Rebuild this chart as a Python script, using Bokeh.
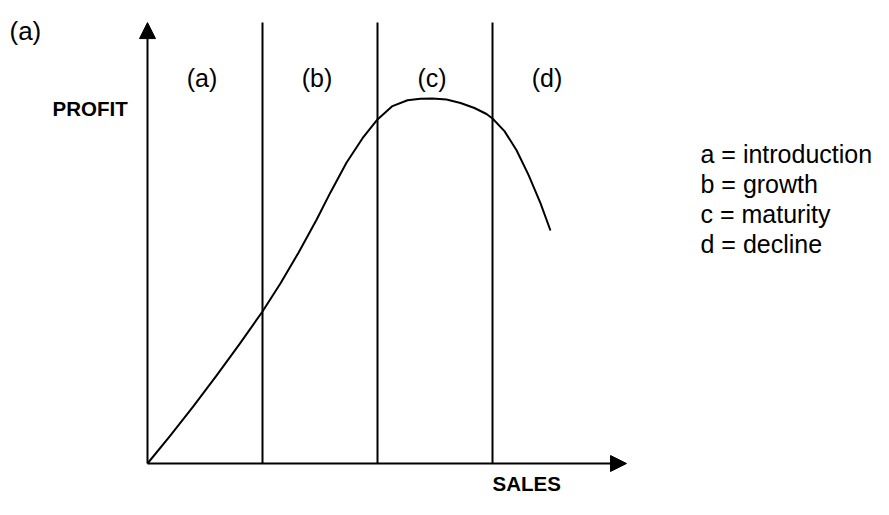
from bokeh.plotting import figure
from bokeh.models import Range1d, Arrow, NormalHead
from bokeh.core.properties import value
from bokeh.embed import file_html
from bokeh.resources import INLINE

# ---- data ----
stage_bounds = [1, 2, 3]
stage_centers = [0.5, 1.5, 2.5, 3.5]
stage_labels = ["(a)", "(b)", "(c)", "(d)"]
curve_x = [0, 0.2, 0.4, 0.6, 0.8, 1.0, 1.157, 1.313, 1.470, 1.591, 1.730, 1.870,
           2.0, 2.130, 2.261, 2.374, 2.478, 2.600, 2.722, 2.843, 2.948, 3.0,
           3.104, 3.209, 3.313, 3.417, 3.504]
curve_y = [0, 7.73, 15.73, 24.05, 32.71, 41.64, 49.37, 57.75, 66.79, 74.27, 82.38,
           89.12, 94.25, 97.92, 99.51, 99.95, 100.0, 99.73, 98.77, 97.40, 95.75,
           94.52, 91.07, 85.81, 79.07, 71.34, 63.84]
legend_lines = ["a = introduction", "b = growth", "c = maturity", "d = decline"]
axis_x_max = 4.165
axis_y_max = 120.8

# ---- layout (picture pixels -> data) ----
W, H = 873, 499
PX0, PY0 = 147, 463          # origin in the picture
SX, SY = 115.0, 3.65         # pixels per data unit


def dx(px):
    return (px - PX0) / SX


def dy(py):
    return (PY0 - py) / SY


x_range = Range1d(dx(0), dx(W))
y_range = Range1d(dy(H), dy(0))

p = figure(width=W, height=H, x_range=x_range, y_range=y_range,
           x_axis_type=None, y_axis_type=None,
           output_backend="svg", toolbar_location=None,
           min_border=0, outline_line_color=None)
p.background_fill_color = "white"
p.border_fill_color = "white"

FONT = value("Liberation Sans")

# axes with arrows
for xs, ys, xe, ye in [(0, 0, 0, axis_y_max), (0, 0, axis_x_max, 0)]:
    p.add_layout(Arrow(end=NormalHead(size=16, fill_color="black", line_color="black", line_width=1),
                       x_start=xs, y_start=ys, x_end=xe, y_end=ye,
                       line_color="black", line_width=2))

# stage boundaries
p.segment(x0=stage_bounds, y0=[0] * len(stage_bounds), x1=stage_bounds,
          y1=[axis_y_max] * len(stage_bounds), line_color="black", line_width=2)

# profit curve
p.line(curve_x, curve_y, line_color="black", line_width=2, line_join="round")

# stage labels
p.text(x=stage_centers, y=[dy(77)] * 4, text=stage_labels, x_offset=-3,
       text_align="center", text_baseline="alphabetic",
       text_font=FONT, text_font_size="25px", text_color="black")

# corner label
p.text(x=[dx(9)], y=[dy(30)], text=["(a)"], text_align="left",
       text_baseline="alphabetic", text_font=FONT, text_font_size="26px",
       text_color="black")

# axis titles
p.text(x=[dx(52)], y=[dy(108)], text=["PROFIT"], text_align="left",
       text_baseline="alphabetic", text_font=FONT, text_font_size="20.5px",
       text_font_style="bold", text_color="black")
p.text(x=[dx(492)], y=[dy(483)], text=["SALES"], text_align="left",
       text_baseline="alphabetic", text_font=FONT, text_font_size="20.5px",
       text_font_style="bold", text_color="black")

# legend
p.text(x=[dx(700)] * 4, y=[dy(b) for b in (153, 183, 213, 243)], text=legend_lines,
       text_align="left", text_baseline="alphabetic", text_font=FONT,
       text_font_size="25px", text_color="black")

open("out.html", "w").write(file_html(p, INLINE))
